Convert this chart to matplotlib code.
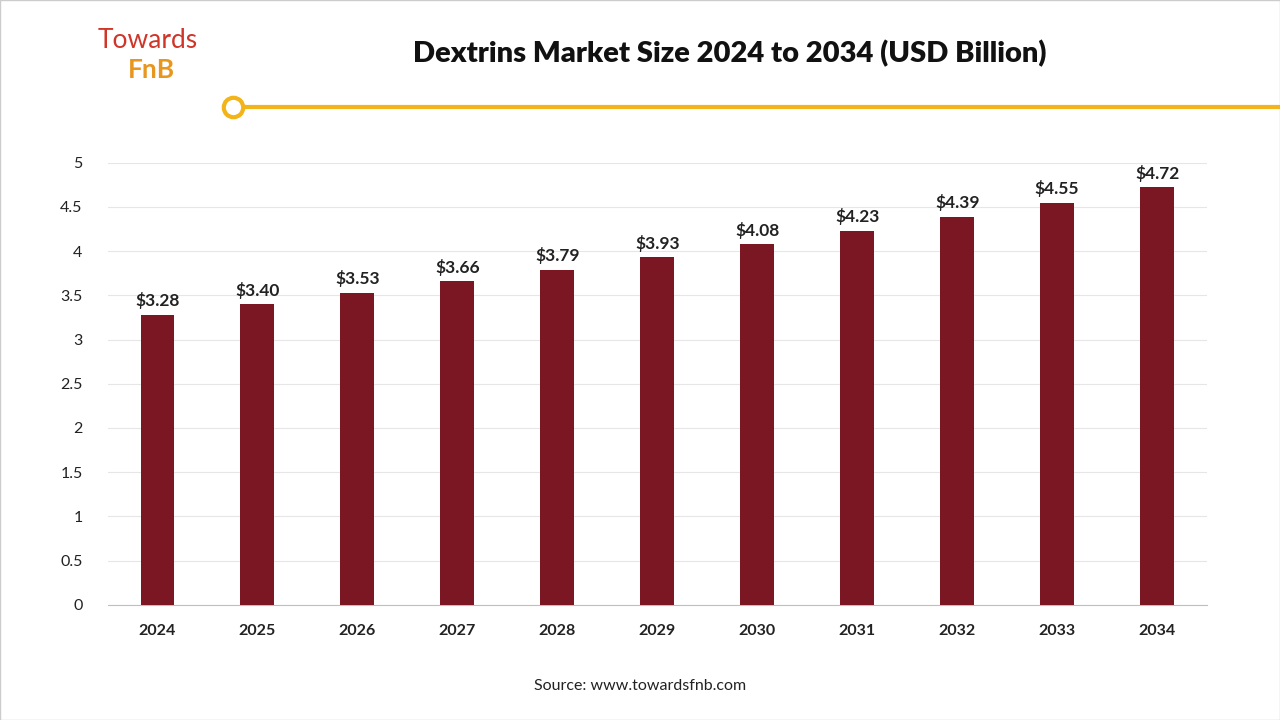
import matplotlib
matplotlib.use("Agg")
import matplotlib.pyplot as plt

plt.rcParams["font.family"] = "Lato"

years = ["2024","2025","2026","2027","2028","2029","2030","2031","2032","2033","2034"]
values = [3.28,3.40,3.53,3.66,3.79,3.93,4.08,4.23,4.39,4.55,4.72]
yticks = [0,0.5,1,1.5,2,2.5,3,3.5,4,4.5,5]
ytick_labels = ["0","0.5","1","1.5","2","2.5","3","3.5","4","4.5","5"]

fig = plt.figure(figsize=(12.8,7.2), dpi=100)
ax = fig.add_axes([0.084,0.160,0.859,0.614])
x = range(len(years))
ax.bar(x, values, width=0.34, color="#7B1722", zorder=3)
for i,v in zip(x, values):
    ax.text(i, v+0.06, f"${v:.2f}", ha="center", va="bottom", fontsize=12.5, fontweight="bold", color="#222222")
ax.set_xlim(-0.5, len(years)-0.5)
ax.set_ylim(0,5)
ax.set_yticks(yticks)
ax.set_yticklabels(ytick_labels, fontsize=11.5, color="#222222")
ax.set_xticks(list(x))
ax.set_xticklabels(years, fontsize=11.5, fontweight="bold", color="#222222")
ax.tick_params(length=0, pad=14)
ax.tick_params(axis="y", pad=18)
ax.grid(axis="y", color="#e6e6e6", linewidth=0.8, zorder=0)
for s in ["top","right","left"]:
    ax.spines[s].set_visible(False)
ax.spines["bottom"].set_color("#bfbfbf")

fig.text(0.5703, 0.926, "Dextrins Market Size 2024 to 2034 (USD Billion)", ha="center", va="center",
         fontsize=21, fontweight="heavy", color="#111111")
fig.add_artist(plt.Line2D([240/1280,1], [1-107/720]*2, color="#F2B418", linewidth=3))
fig.add_artist(plt.Line2D([233/1280], [1-107/720], marker="o", markersize=14, markerfacecolor="white",
                          markeredgecolor="#F2B418", markeredgewidth=3, transform=fig.transFigure))
fig.text(98/1280, 1-40/720, "Towards", fontsize=19, color="#D0352A", va="center", ha="left")
fig.text(128/1280, 1-70/720, "FnB", fontsize=19, color="#E8961E", va="center", ha="left", fontweight="bold")
fig.text(0.5, 1-686/720, "Source: www.towardsfnb.com", ha="center", va="center", fontsize=11.5, color="#222222")
fig.add_artist(plt.Rectangle((0,0),1,1, transform=fig.transFigure, fill=False, edgecolor="#cccccc", linewidth=1))
fig.savefig("out.png", dpi=100, facecolor="white")
